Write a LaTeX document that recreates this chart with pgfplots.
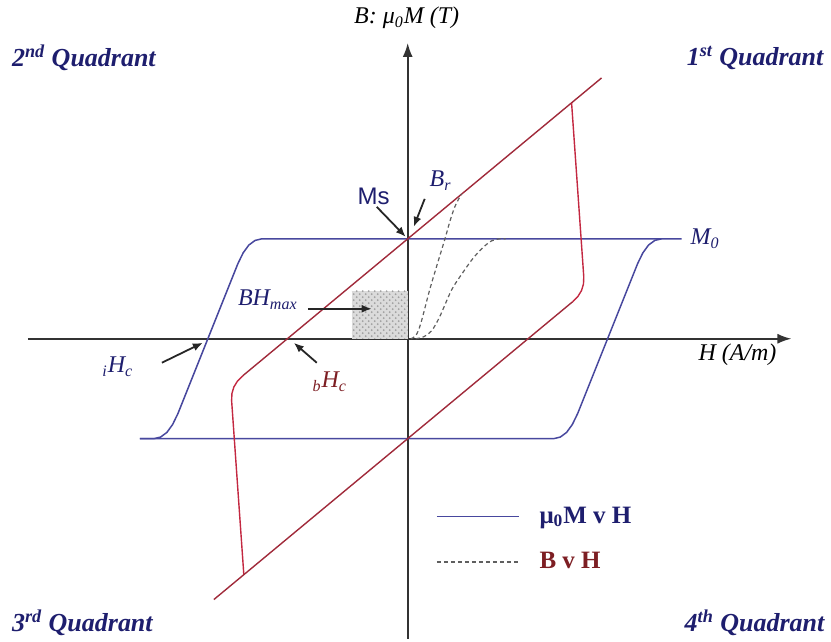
\documentclass[border=0pt]{standalone}
\usepackage{pgfplots}
\pgfplotsset{compat=1.18}
\usepackage{fontspec}
\setmainfont{Liberation Serif}
\newfontfamily\arialfont{Liberation Sans}
\usetikzlibrary{arrows.meta,patterns}

\definecolor{navy}{RGB}{30,30,110}
\definecolor{loopblue}{RGB}{72,72,158}
\definecolor{loopred}{RGB}{195,40,65}
\definecolor{diagred}{RGB}{160,42,58}
\definecolor{maroon}{RGB}{125,30,35}
\definecolor{dashgray}{RGB}{95,95,95}

\begin{document}
\begin{tikzpicture}
\begin{axis}[
  x=50pt, y=50pt,
  xmin=-3.80, xmax=3.84, ymin=-3.0, ymax=2.96,
  axis lines=middle,
  axis line style={draw=black!80, line width=0.85pt, -{Latex[length=7pt,width=5pt]}},
  xtick=\empty, ytick=\empty,
  clip=false,
  legend cell align=left,
  legend style={at={(axis cs:0.28,-1.64)}, anchor=north west, draw=none, fill=none,
    font=\fontsize{12.5}{15}\selectfont\bfseries, row sep=9pt, column sep=8pt, inner sep=0pt},
  legend image code/.code={\draw[#1] (0pt,0pt) -- (41pt,0pt);},
]

% energy product region
\addplot[draw=none, fill=gray!28, forget plot] coordinates {(-0.56,0) (0,0) (0,0.48) (-0.56,0.48)} --cycle;
\addplot[draw=none, pattern=crosshatch dots, pattern color=gray!75, forget plot] coordinates {(-0.56,0) (0,0) (0,0.48) (-0.56,0.48)} --cycle;

% mu0 M vs H loop
\addplot[loopblue, line width=0.75pt] coordinates {
  (2.74,1.0) (-1.46,1.0) (-1.527,0.984) (-1.59,0.9375) (-1.647,0.859) (-1.70,0.75)
  (-2.30,-0.75) (-2.353,-0.859) (-2.41,-0.9375) (-2.473,-0.984) (-2.54,-1.0) (-2.68,-1.0)};
\addlegendentry{\textcolor{navy}{μ\textsubscript{0}M v H}}
\addplot[loopblue, line width=0.75pt, forget plot] coordinates {
  (-2.68,-1.0) (1.46,-1.0) (1.527,-0.984) (1.59,-0.9375) (1.647,-0.859) (1.70,-0.75)
  (2.30,0.75) (2.353,0.859) (2.41,0.9375) (2.473,0.984) (2.54,1.0)};

% B vs H loop: recoil lines and the two switching branches
\addplot[diagred, line width=0.7pt, forget plot] coordinates {(1.94,2.61) (-1.65,-0.37)};
\addplot[loopred, line width=0.7pt, forget plot] coordinates {
  (-1.65,-0.37) (-1.703,-0.423) (-1.7395,-0.4825) (-1.759,-0.548) (-1.762,-0.62) (-1.64,-2.36)};
\addplot[diagred, line width=0.7pt, forget plot] coordinates {(-1.94,-2.61) (1.65,0.37)};
\addplot[loopred, line width=0.7pt, forget plot] coordinates {
  (1.65,0.37) (1.703,0.423) (1.7395,0.4825) (1.759,0.548) (1.762,0.62) (1.64,2.36)};

% initial curves
\addplot[dashgray, line width=0.6pt, dash pattern=on 2pt off 1.5pt, smooth] coordinates {
  (0.03,0.0) (0.08,0.03) (0.13,0.15) (0.22,0.49) (0.30,0.76) (0.37,0.99) (0.43,1.20) (0.48,1.34) (0.54,1.45)};
\addlegendentry{\textcolor{maroon}{B v H}}
\addplot[dashgray, line width=0.6pt, dash pattern=on 2pt off 1.5pt, smooth, forget plot] coordinates {
  (0.08,0.0) (0.16,0.02) (0.24,0.08) (0.32,0.22) (0.44,0.49) (0.55,0.66) (0.65,0.80) (0.75,0.91) (0.84,0.98) (0.92,1.0) (0.98,1.0)};

% axis titles
\node[font=\fontsize{12}{14}\selectfont\itshape] at (axis cs:-0.01,3.21) {B: μ\textsubscript{0}M (T)};
\node[font=\fontsize{12}{14}\selectfont\itshape, anchor=west] at (axis cs:2.84,-0.16) {H (A/m)};

% quadrant names
\begin{scope}[every node/.style={font=\fontsize{13}{15}\selectfont\bfseries\itshape, text=navy}]
\node[anchor=west] at (axis cs:-4.03,2.81) {2\textsuperscript{nd} Quadrant};
\node[anchor=east] at (axis cs:4.23,2.81) {1\textsuperscript{st} Quadrant};
\node[anchor=west] at (axis cs:-4.03,-2.84) {3\textsuperscript{rd} Quadrant};
\node[anchor=east] at (axis cs:4.24,-2.84) {4\textsuperscript{th} Quadrant};
\end{scope}

% annotations
\node[font=\fontsize{12}{14}\selectfont\itshape, text=navy, anchor=west] at (axis cs:2.76,1.0) {M\textsubscript{0}};
\node[font=\fontsize{12}{14}\arialfont, text=navy] at (axis cs:-0.34,1.42) {Ms};
\node[font=\fontsize{12}{14}\selectfont\itshape, text=navy] at (axis cs:0.33,1.58) {B\textsubscript{r}};
\node[font=\fontsize{12}{14}\selectfont\itshape, text=navy] at (axis cs:-1.40,0.39) {BH\textsubscript{max}};
\node[font=\fontsize{12}{14}\selectfont\itshape, text=navy] at (axis cs:-2.90,-0.28) {\textsubscript{i}H\textsubscript{c}};
\node[font=\fontsize{12}{14}\selectfont\itshape, text=maroon] at (axis cs:-0.78,-0.43) {\textsubscript{b}H\textsubscript{c}};

\begin{scope}[line width=0.9pt, draw=black!85, -{Latex[length=5pt,width=4pt]}]
\draw (axis cs:-0.31,1.32) -- (axis cs:-0.02,1.02);
\draw (axis cs:0.17,1.40) -- (axis cs:0.06,1.12);
\draw (axis cs:-1.00,0.30) -- (axis cs:-0.36,0.30);
\draw (axis cs:-2.46,-0.24) -- (axis cs:-2.05,-0.04);
\draw (axis cs:-0.91,-0.24) -- (axis cs:-1.14,-0.04);
\end{scope}

\path (axis cs:-4.08,-3.0) rectangle (axis cs:4.23,3.39);
\end{axis}
\end{tikzpicture}
\end{document}
